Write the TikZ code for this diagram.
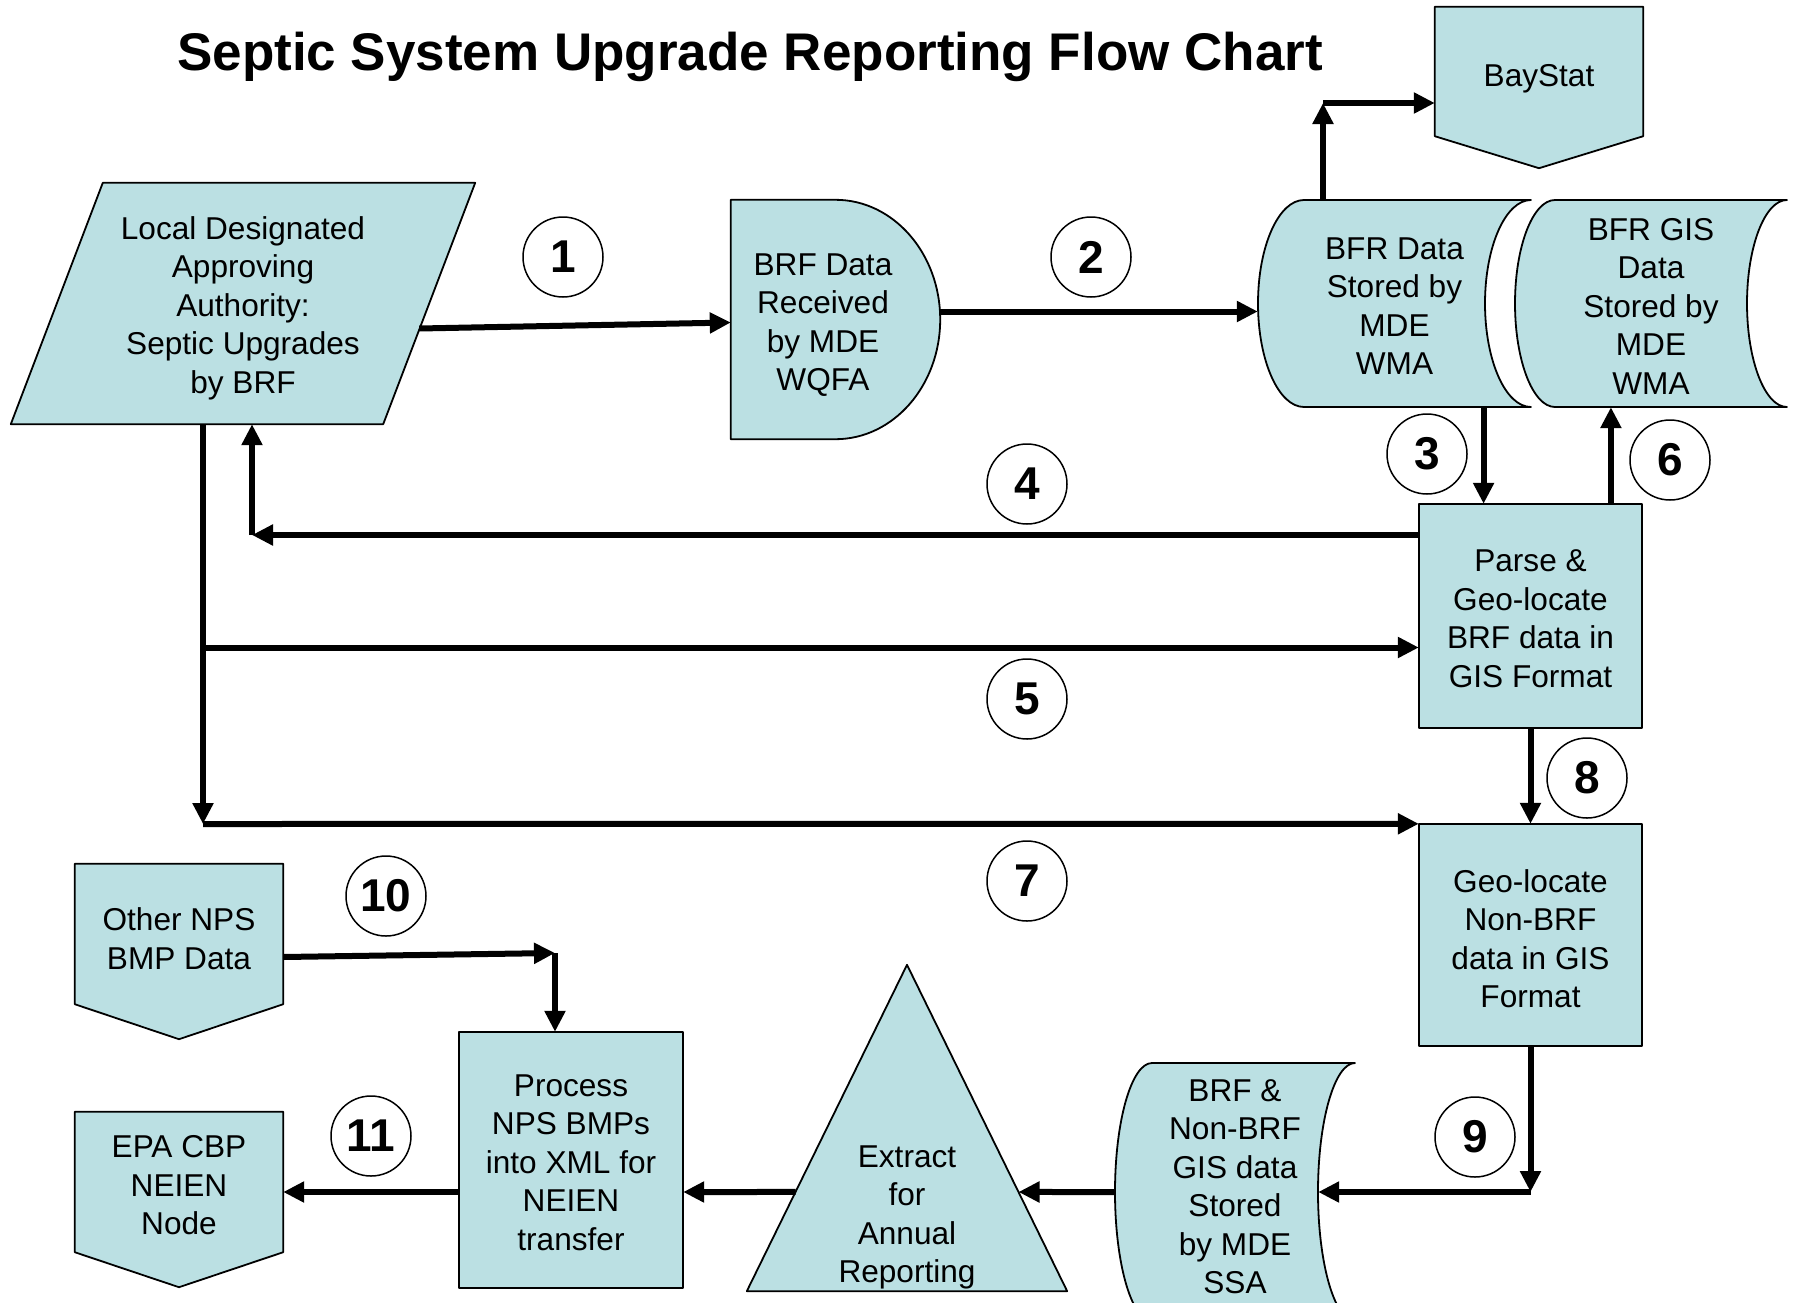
\documentclass[tikz,border=0pt]{standalone}
\usepackage{fontspec}
\setmainfont{Liberation Sans}
\usetikzlibrary{arrows.meta,calc,backgrounds}
\definecolor{boxfill}{RGB}{187,224,227}
\newcommand\stdata[5]{%
\draw[shp] ({#1+#5},#3) -- (#2,#3)
 .. controls ({#2-0.5523*#5},#3) and ({#2-#5},{(#3+#4)/2-0.5523*(#4-#3)/2}) .. ({#2-#5},{(#3+#4)/2})
 .. controls ({#2-#5},{(#3+#4)/2+0.5523*(#4-#3)/2}) and ({#2-0.5523*#5},#4) .. (#2,#4)
 -- ({#1+#5},#4)
 .. controls ({#1+0.4477*#5},#4) and (#1,{(#3+#4)/2+0.5523*(#4-#3)/2}) .. (#1,{(#3+#4)/2})
 .. controls (#1,{(#3+#4)/2-0.5523*(#4-#3)/2}) and ({#1+0.4477*#5},#3) .. ({#1+#5},#3) -- cycle;}
\begin{document}
\begin{tikzpicture}[x=1pt,y=-1pt,
  every node/.style={font=\fontsize{31.6}{38.5}\selectfont},
  shp/.style={draw=black,line width=1.8pt,fill=boxfill,line join=round},
  holder/.style={inner sep=0pt,align=center},
  num/.style={circle,draw=black,line width=1.5pt,fill=white,minimum size=80,inner sep=0pt,font=\fontsize{46}{46}\selectfont\bfseries},
  arr/.style={line width=6pt,-{Triangle[length=21pt,width=20pt]}}]
\useasboundingbox (0,0) rectangle (1797,1302);

\node[font=\fontsize{53}{60}\selectfont\bfseries] (title) at (750,57) {Septic System Upgrade Reporting Flow Chart};

\node[holder,minimum width=208,minimum height=129,label={[holder,yshift=-7]center:BayStat}] (bs) at (1539,71.5) {};
\node[holder,minimum width=372,minimum height=241,label={[holder,yshift=-4.5]center:{Local Designated\\Approving\\Authority:\\Septic Upgrades\\by BRF}}] (local) at (243,303.5) {};
\node[holder,minimum width=209,minimum height=239,label={[holder,xshift=-12.5,yshift=-5.5]center:{BRF Data\\Received\\by MDE\\WQFA}}] (recv) at (835.5,319.5) {};
\node[holder,minimum width=273,minimum height=207,label={[holder,yshift=-2.5]center:{BFR Data\\Stored by\\MDE\\WMA}}] (bfr) at (1394.5,303.5) {};
\node[holder,minimum width=272,minimum height=207,label={[holder,yshift=-2.5]center:{BFR GIS\\Data\\Stored by\\MDE\\WMA}}] (gis) at (1651,303.5) {};
\node[holder,minimum width=223,minimum height=224,label={[holder,yshift=-2.5]center:{Parse \&\\Geo-locate\\BRF data in\\GIS Format}}] (parse) at (1530.5,616) {};
\node[holder,minimum width=223,minimum height=222,label={[holder,yshift=-3.5]center:{Geo-locate\\Non-BRF\\data in GIS\\Format}}] (geo) at (1530.5,935) {};
\node[holder,minimum width=240,minimum height=258,label={[holder,yshift=5.5]center:{BRF \&\\Non-BRF\\GIS data\\Stored\\by MDE\\SSA}}] (store) at (1235,1192) {};
\node[holder,minimum width=320,minimum height=326,label={[holder,yshift=-89.5]center:{Extract\\for\\Annual\\Reporting}}] (tri) at (907,1128) {};
\node[holder,minimum width=224,minimum height=256,label={[holder,yshift=-2.5]center:{Process\\NPS BMPs\\into XML for\\NEIEN\\transfer}}] (proc) at (571,1160) {};
\node[holder,minimum width=208,minimum height=140,label={[holder,yshift=-4.5]center:{Other NPS\\BMP Data}}] (other) at (179,934) {};
\node[holder,minimum width=208,minimum height=140,label={[holder,yshift=-3.5]center:{EPA CBP\\NEIEN\\Node}}] (epa) at (179,1182) {};

\begin{scope}[on background layer]
\fill[white] (0,0) rectangle (1797,1302);
\draw[shp] (bs.north west) -- (bs.north east) -- (bs.south east) -- ($(bs.south)+(0,32)$) -- (bs.south west) -- cycle;
\draw[shp] (other.north west) -- (other.north east) -- (other.south east) -- ($(other.south)+(0,35)$) -- (other.south west) -- cycle;
\draw[shp] (epa.north west) -- (epa.north east) -- (epa.south east) -- ($(epa.south)+(0,35)$) -- (epa.south west) -- cycle;
\draw[shp] ($(local.north west)+(46,0)$) -- ($(local.north east)+(46,0)$) -- ($(local.south east)+(-46,0)$) -- ($(local.south west)+(-46,0)$) -- cycle;
\draw[shp] (recv.north west) -- (recv.north)
  .. controls ($(recv.north)!0.5523!(recv.north east)$) and ($(recv.east)!0.5523!(recv.north east)$) .. (recv.east)
  .. controls ($(recv.east)!0.5523!(recv.south east)$) and ($(recv.south)!0.5523!(recv.south east)$) .. (recv.south)
  -- (recv.south west) -- cycle;
\stdata{1258}{1531}{200}{407}{46}
\stdata{1515}{1787}{200}{407}{40}
\stdata{1115}{1355}{1063}{1321}{37}
\draw[shp] (parse.north west) rectangle (parse.south east);
\draw[shp] (geo.north west) rectangle (geo.south east);
\draw[shp] (proc.north west) rectangle (proc.south east);
\draw[shp] (tri.north) -- (tri.south east) -- (tri.south west) -- cycle;
\end{scope}

% connectors
\coordinate (jb) at (1323,103);
\draw[arr] (jb |- bfr.north) -- (jb);
\draw[arr] (jb) -- (jb -| bs.west);
\draw[arr] ($(local.east)+(-10,25)$) -- ($(recv.west)+(0,3)$);
\draw[arr] ($(recv.east)+(0,-8)$) -- ($(bfr.west)+(0,8)$);
\coordinate (p3) at ($(parse.north west)!0.29!(parse.north east)$);
\draw[arr] (p3 |- bfr.south) -- (p3);
\coordinate (p6) at ($(parse.north west)!0.86!(parse.north east)$);
\draw[arr] (p6) -- (p6 |- gis.south);
\draw[arr] (parse.south) -- (geo.north);
\coordinate (j4) at (252,535);
\draw[arr] (j4 -| parse.west) -- (j4);
\draw[arr] (j4) -- (j4 |- local.south);
\coordinate (j7) at (203,824);
\draw[arr] (j7 |- local.south) -- (j7);
\coordinate (j5) at (203,647.5);
\draw[arr] (j5) -- (j5 -| parse.west);
\draw[arr] (j7) -- (geo.north west);
\draw[arr] (geo.south) -- (geo.south |- store.east);
\draw[arr] (geo.south |- store.east) -- ($(store.east)+(-37,0)$);
\draw[arr] (store.west) -- ($(tri.north)!0.696!(tri.south east)$);
\draw[arr] ($(tri.north)!0.696!(tri.south west)$) -- (proc.east |- store.west);
\draw[arr] (proc.west |- store.west) -- (epa.east |- store.west);
\coordinate (j10) at (555,953);
\draw[arr] ($(other.east)+(0,23)$) -- (j10);
\draw[arr] (j10) -- (j10 |- proc.north);

% step numbers
\node[num] (n1) at (563,257) {1};
\node[num] (n2) at (1091,257) {2};
\node[num] (n3) at (1427,454) {3};
\node[num] (n4) at (1027,484) {4};
\node[num] (n5) at (1027,699) {5};
\node[num] (n6) at (1670,460) {6};
\node[num] (n7) at (1027,881) {7};
\node[num] (n8) at (1587,778) {8};
\node[num] (n9) at (1475,1137) {9};
\node[num] (n10) at (386,896) {10};
\node[num] (n11) at (371,1136) {11};
\end{tikzpicture}
\end{document}
